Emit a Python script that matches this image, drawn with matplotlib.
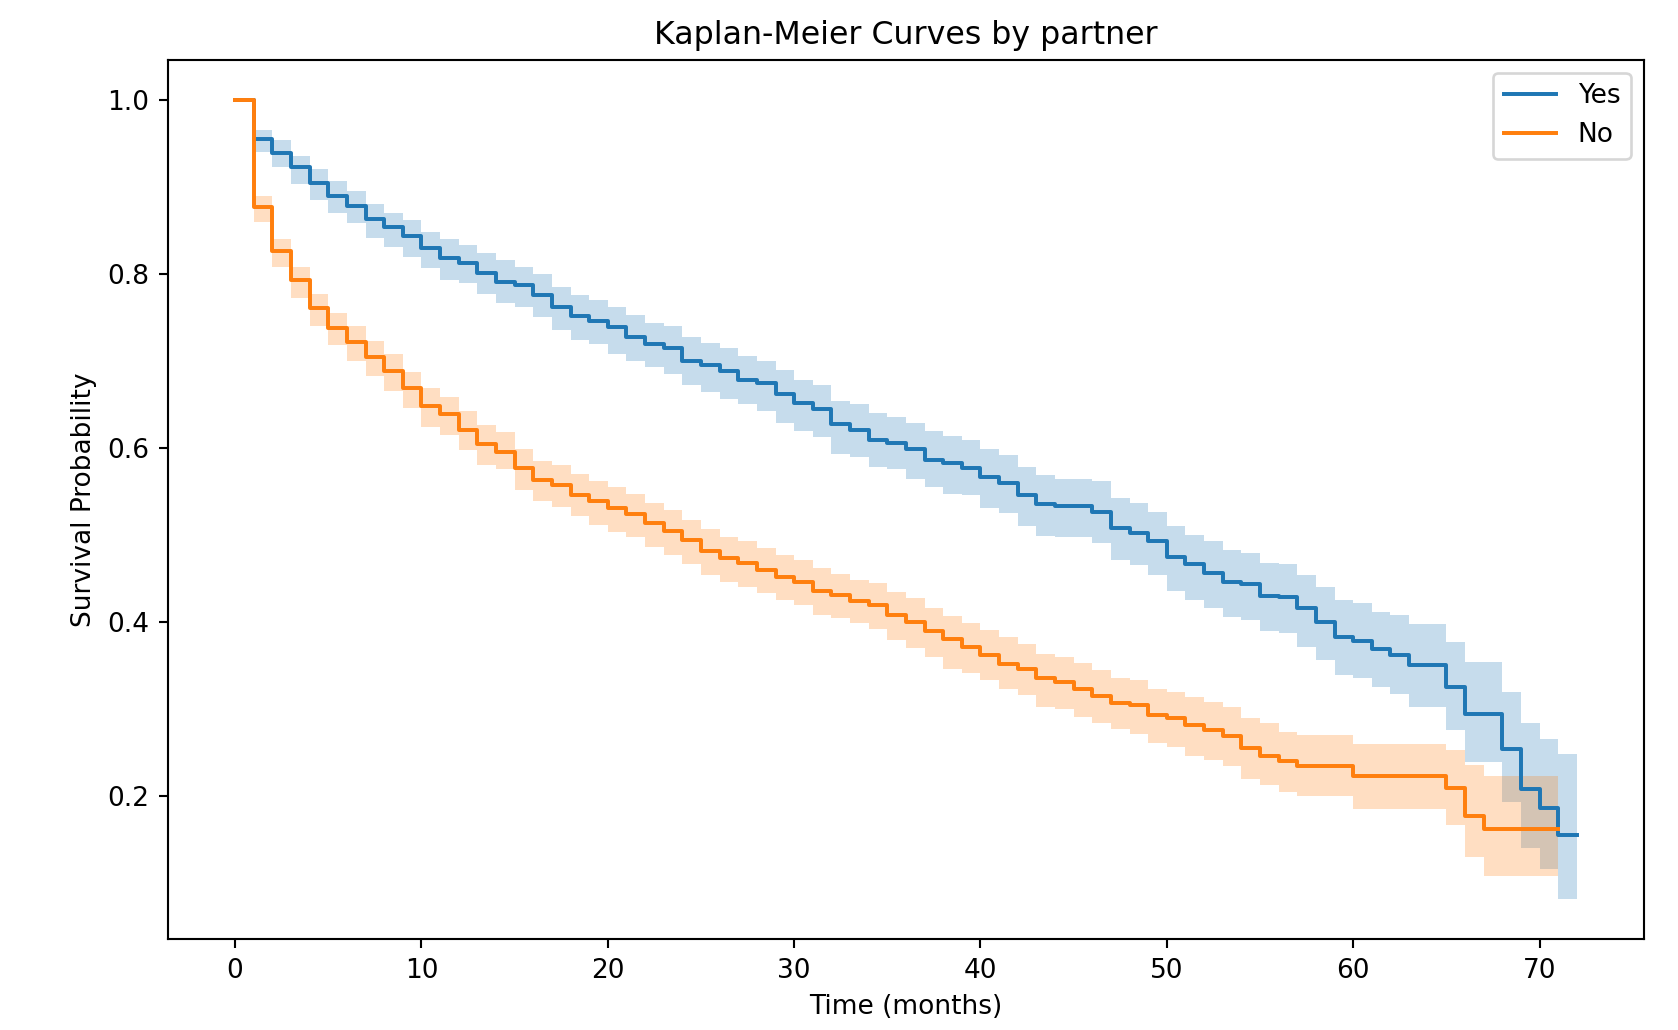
import matplotlib
matplotlib.use("Agg")
import matplotlib.pyplot as plt
import numpy as np

# survival estimates per month (value holds from t until the next month)
yes_t = list(range(0, 73))
yes_s = [1.0, 0.955, 0.938, 0.922, 0.904, 0.889, 0.878, 0.863, 0.854, 0.843,
         0.829, 0.818, 0.812, 0.801, 0.790, 0.787, 0.775, 0.762, 0.751, 0.746,
         0.738, 0.727, 0.719, 0.714, 0.700, 0.695, 0.688, 0.678, 0.674, 0.662,
         0.651, 0.644, 0.627, 0.620, 0.609, 0.605, 0.598, 0.586, 0.582, 0.577,
         0.566, 0.559, 0.545, 0.535, 0.533, 0.533, 0.526, 0.507, 0.502, 0.492,
         0.474, 0.466, 0.456, 0.446, 0.443, 0.429, 0.428, 0.415, 0.400, 0.382,
         0.378, 0.369, 0.362, 0.350, 0.350, 0.325, 0.294, 0.294, 0.254, 0.207,
         0.186, 0.155, 0.155]
yes_hi = [1.0, 0.965, 0.953, 0.935, 0.920, 0.906, 0.895, 0.880, 0.870, 0.861,
          0.848, 0.840, 0.833, 0.824, 0.815, 0.808, 0.799, 0.784, 0.775, 0.770,
          0.761, 0.752, 0.743, 0.740, 0.727, 0.720, 0.714, 0.705, 0.700, 0.689,
          0.678, 0.672, 0.654, 0.650, 0.640, 0.635, 0.628, 0.619, 0.613, 0.609,
          0.598, 0.591, 0.578, 0.568, 0.564, 0.564, 0.561, 0.542, 0.536, 0.526,
          0.510, 0.500, 0.492, 0.482, 0.479, 0.467, 0.466, 0.453, 0.440, 0.425,
          0.421, 0.411, 0.407, 0.397, 0.397, 0.377, 0.353, 0.353, 0.319, 0.283,
          0.265, 0.248, 0.248]
yes_lo = [1.0, 0.940, 0.923, 0.903, 0.884, 0.870, 0.858, 0.841, 0.831, 0.819,
          0.806, 0.793, 0.789, 0.777, 0.766, 0.762, 0.750, 0.735, 0.724, 0.719,
          0.708, 0.700, 0.692, 0.684, 0.672, 0.664, 0.656, 0.650, 0.642, 0.628,
          0.619, 0.612, 0.592, 0.589, 0.578, 0.575, 0.564, 0.555, 0.547, 0.545,
          0.531, 0.525, 0.510, 0.498, 0.497, 0.497, 0.490, 0.471, 0.465, 0.453,
          0.435, 0.425, 0.415, 0.405, 0.402, 0.389, 0.387, 0.371, 0.356, 0.338,
          0.335, 0.325, 0.317, 0.302, 0.302, 0.275, 0.239, 0.239, 0.193, 0.140,
          0.115, 0.081, 0.081]

no_t = list(range(0, 72))
no_s = [1.0, 0.877, 0.826, 0.792, 0.760, 0.737, 0.721, 0.704, 0.688, 0.668,
        0.648, 0.638, 0.620, 0.604, 0.595, 0.577, 0.563, 0.557, 0.545, 0.538,
        0.531, 0.524, 0.513, 0.504, 0.494, 0.481, 0.473, 0.467, 0.459, 0.451,
        0.446, 0.435, 0.430, 0.424, 0.419, 0.408, 0.400, 0.389, 0.380, 0.371,
        0.362, 0.351, 0.345, 0.335, 0.331, 0.323, 0.314, 0.306, 0.304, 0.292,
        0.289, 0.281, 0.275, 0.268, 0.255, 0.246, 0.240, 0.234, 0.234, 0.234,
        0.222, 0.222, 0.222, 0.222, 0.222, 0.209, 0.177, 0.161, 0.161, 0.161,
        0.161, 0.161]
no_hi = [1.0, 0.889, 0.840, 0.808, 0.777, 0.755, 0.740, 0.723, 0.707, 0.687,
         0.668, 0.658, 0.642, 0.626, 0.618, 0.598, 0.584, 0.580, 0.569, 0.561,
         0.555, 0.547, 0.536, 0.528, 0.517, 0.506, 0.497, 0.492, 0.484, 0.476,
         0.471, 0.462, 0.455, 0.448, 0.444, 0.434, 0.427, 0.416, 0.406, 0.398,
         0.390, 0.382, 0.374, 0.363, 0.359, 0.352, 0.344, 0.335, 0.333, 0.323,
         0.319, 0.313, 0.307, 0.302, 0.289, 0.283, 0.273, 0.270, 0.270, 0.270,
         0.259, 0.259, 0.259, 0.259, 0.259, 0.252, 0.235, 0.223, 0.223, 0.223,
         0.223, 0.223]
no_lo = [1.0, 0.859, 0.807, 0.772, 0.740, 0.718, 0.700, 0.682, 0.665, 0.645,
         0.624, 0.614, 0.597, 0.580, 0.575, 0.551, 0.538, 0.532, 0.521, 0.511,
         0.503, 0.497, 0.486, 0.476, 0.466, 0.453, 0.446, 0.440, 0.433, 0.425,
         0.419, 0.408, 0.404, 0.398, 0.391, 0.379, 0.370, 0.359, 0.346, 0.341,
         0.333, 0.322, 0.315, 0.302, 0.300, 0.290, 0.283, 0.277, 0.271, 0.260,
         0.256, 0.246, 0.241, 0.234, 0.219, 0.212, 0.204, 0.199, 0.199, 0.199,
         0.184, 0.184, 0.184, 0.184, 0.184, 0.166, 0.129, 0.107, 0.107, 0.107,
         0.107, 0.107]

groups = [("Yes", yes_t, yes_s, yes_lo, yes_hi, "tab:blue"),
          ("No", no_t, no_s, no_lo, no_hi, "tab:orange")]

fig = plt.figure(figsize=(1678 / 190, 1030 / 190), dpi=190)
ax = fig.add_subplot(111)
fig.subplots_adjust(left=0.1001, right=0.9797, top=0.9422, bottom=0.0883)

for name, t, s, lo, hi, col in groups:
    ax.fill_between(t, lo, hi, step="post", color=col, alpha=0.25, linewidth=0)
    ax.step(t, s, where="post", color=col, linewidth=1.5, label=name)

ax.set_title("Kaplan-Meier Curves by partner")
ax.set_xlabel("Time (months)")
ax.set_ylabel("Survival Probability")
ax.legend(loc="upper right")

fig.savefig("out.png", dpi=190)
